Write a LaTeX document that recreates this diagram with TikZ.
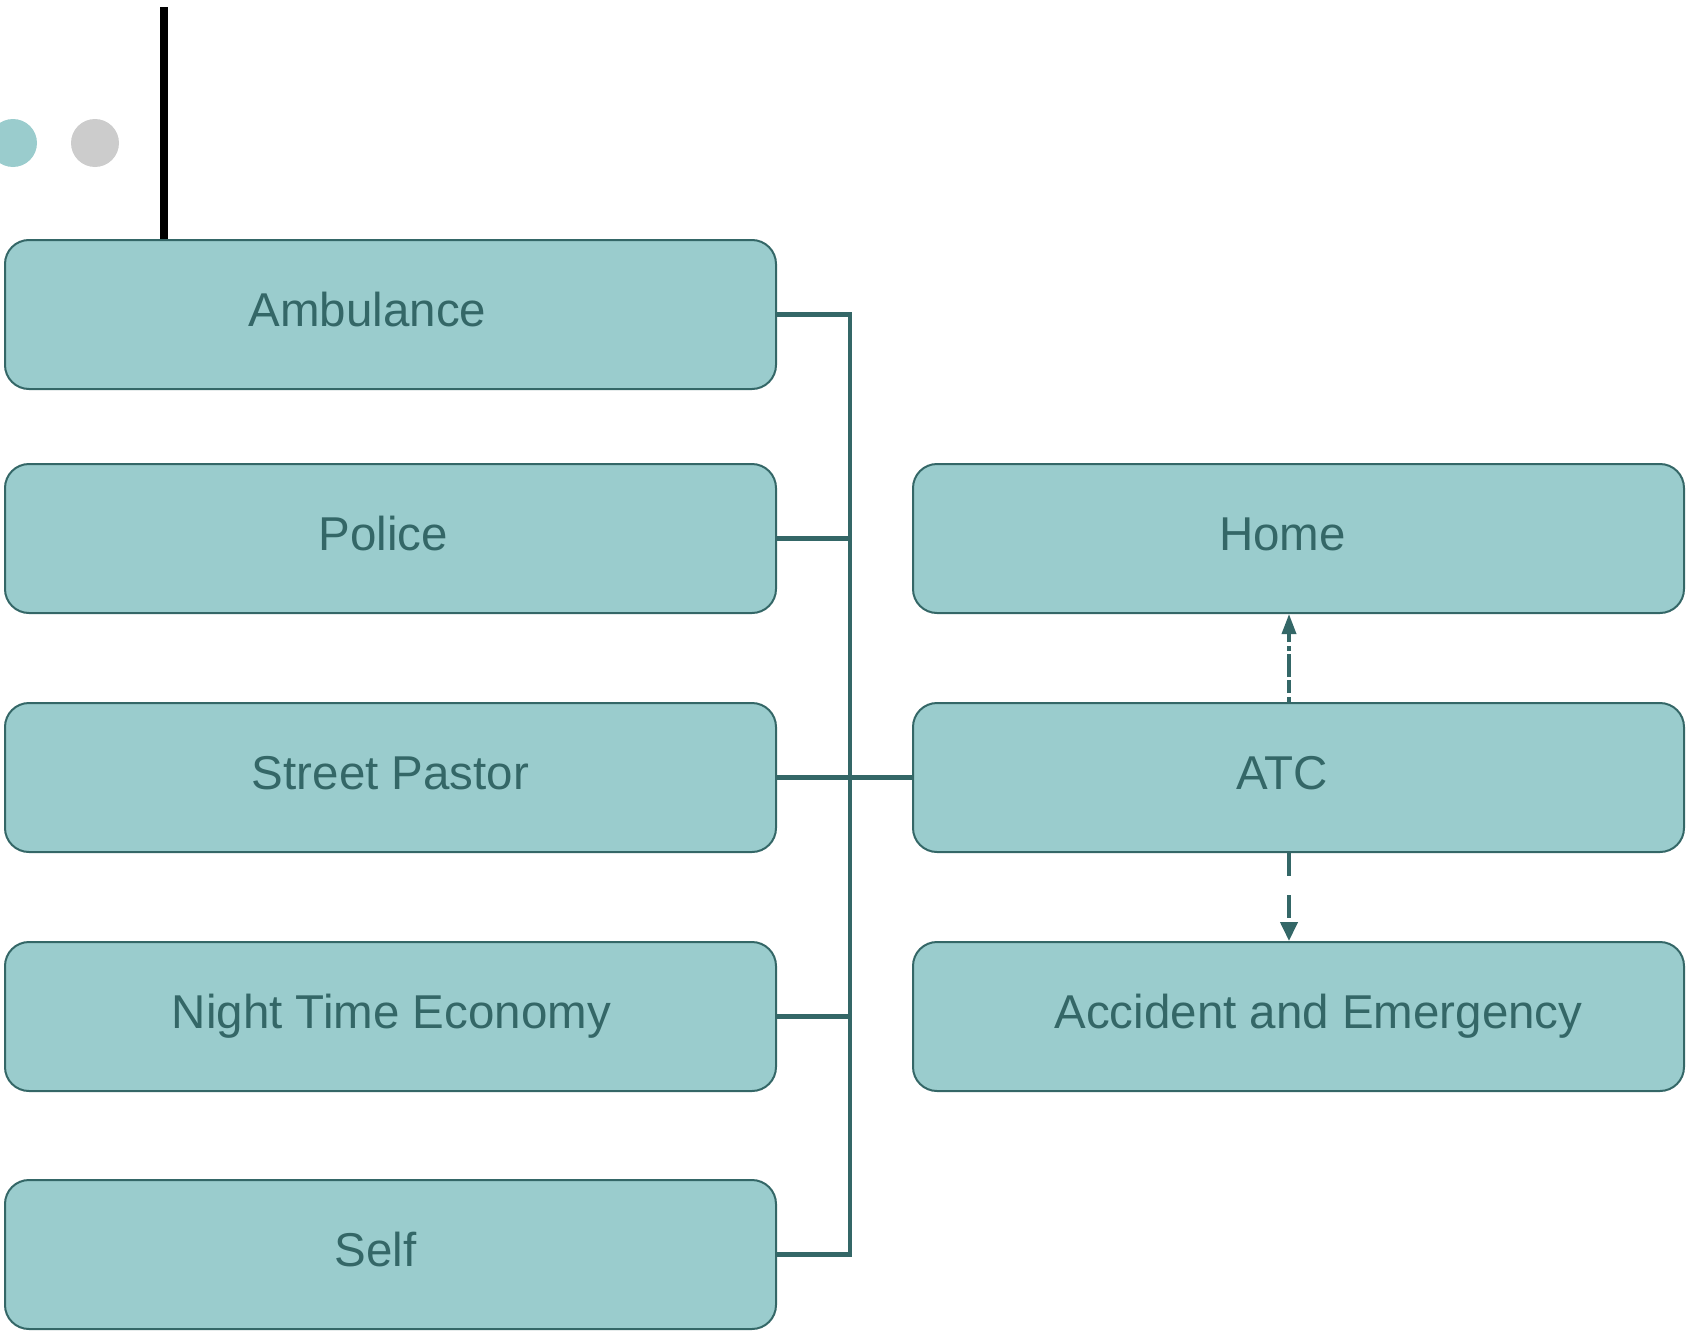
\documentclass[tikz,border=0pt]{standalone}
\usepackage{fontspec}
\setmainfont{Liberation Sans}
\usetikzlibrary{arrows.meta}
\definecolor{boxfill}{RGB}{154,204,205}
\definecolor{darkteal}{RGB}{52,103,103}
\definecolor{dotgray}{RGB}{204,204,204}
\tikzset{
  box/.style={draw=darkteal, line width=2pt, fill=boxfill, rounded corners=24pt,
    minimum width=771pt, minimum height=149pt, inner sep=0pt, anchor=north west},
  lbl/.style={text=darkteal, font=\fontsize{47.5}{57}\selectfont, anchor=base, inner sep=0pt},
  conn/.style={draw=darkteal, line width=4.5pt},
  downarrow/.style={draw=darkteal, line width=4pt, dash pattern=on 23pt off 19pt,
    -{Triangle[length=19pt,width=17pt]}},
  uparrow/.style={draw=darkteal, line width=3.5pt, dash pattern=on 5pt off 4pt on 13pt off 3pt on 23pt off 3pt,
    -{Triangle[length=20pt,width=14pt]}}
}
\begin{document}
\begin{tikzpicture}[x=1pt,y=-1pt]
\useasboundingbox (0,0) rectangle (1690,1333);
% decorative dots and bar
\fill[boxfill] (13,143) circle (24);
\fill[dotgray] (95,143) circle (24);
% boxes
\node[box] (amb) at (4,239) {};
\node[box] (pol) at (4,463) {};
\node[box] (sp) at (4,702) {};
\node[box] (nte) at (4,941) {};
\node[box] (self) at (4,1179) {};
\node[box] (home) at (912,463) {};
\node[box] (atc) at (912,702) {};
\node[box] (ae) at (912,941) {};
% labels
\node[lbl] (ambT) at ([shift={(-23,12)}]amb.center) {Ambulance};
\node[lbl] (polT) at ([shift={(-7,12)}]pol.center) {Police};
\node[lbl] (spT) at ([shift={(0,12)}]sp.center) {Street Pastor};
\node[lbl] (nteT) at ([shift={(1,12)}]nte.center) {Night Time Economy};
\node[lbl] (selfT) at ([shift={(-15,12)}]self.center) {Self};
\node[lbl] (homeT) at ([shift={(-16,12)}]home.center) {Home};
\node[lbl] (atcT) at ([shift={(-16,12)}]atc.center) {ATC};
\node[lbl] (aeT) at ([shift={(20,12)}]ae.center) {Accident and Emergency};
% black bar
\coordinate (blk) at (164,7);
\draw[line width=8pt, black] (blk) -- (blk |- amb.north);
% bus connectors
\coordinate (bus) at (850,0);
\draw[conn] (amb.east) -- (amb.east -| bus) -- (self.east -| bus) -- (self.east);
\draw[conn] (pol.east) -- (pol.east -| bus);
\draw[conn] (sp.east) -- (atc.west);
\draw[conn] (nte.east) -- (nte.east -| bus);
% dashed arrows
\coordinate (ax) at (1289,0);
\draw[uparrow] (atc.north -| ax) -- (home.south -| ax);
\draw[downarrow] (atc.south -| ax) -- (ae.north -| ax);
\end{tikzpicture}
\end{document}
